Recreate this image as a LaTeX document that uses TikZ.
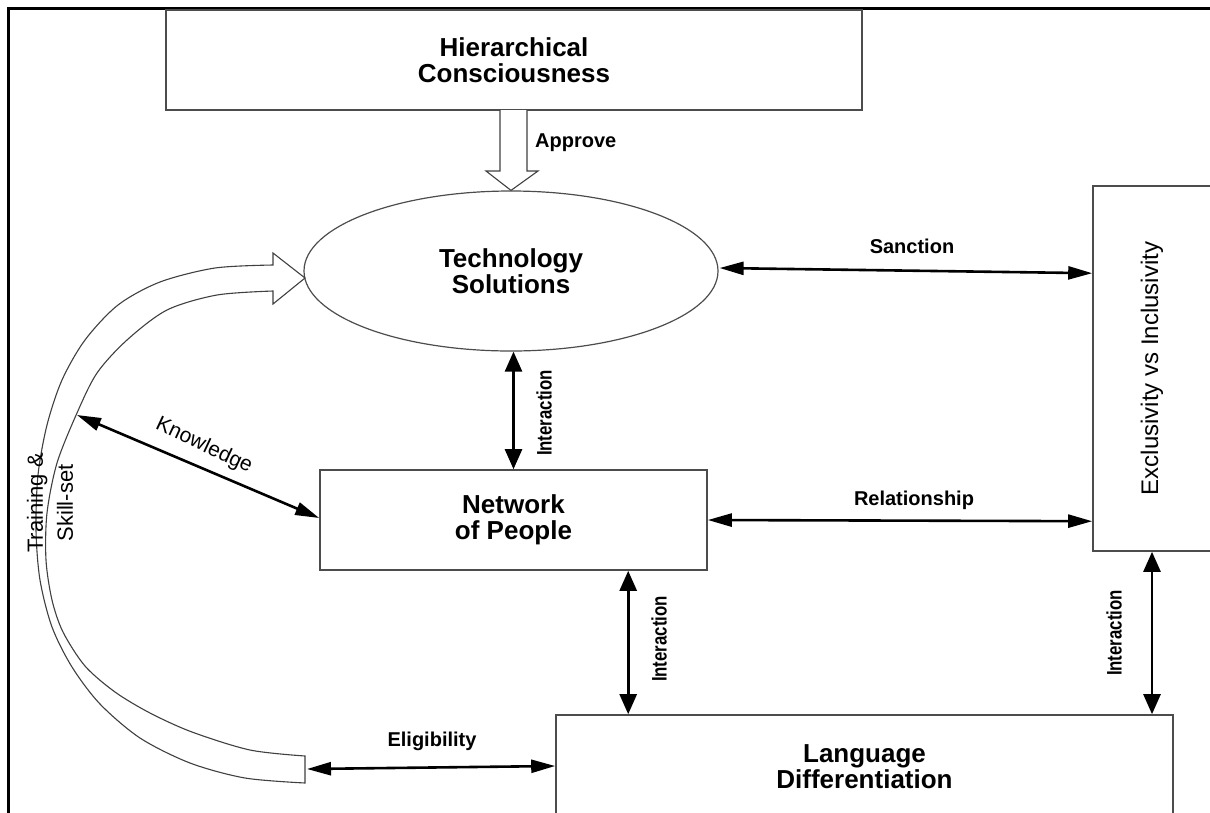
\documentclass[tikz,border=0pt]{standalone}
\usepackage{fontspec}
\usepackage{graphicx}
\setmainfont{Liberation Sans}
\usetikzlibrary{arrows.meta,calc,shapes.geometric}

\begin{document}
\begin{tikzpicture}[x=1pt,y=-1pt,
  box/.style={draw=black!70, line width=1.6pt, fill=white, inner sep=0pt,
    align=center, font=\fontsize{26}{26}\selectfont\bfseries},
  oval/.style={draw=black!70, line width=1.2pt, ellipse, inner sep=0pt,
    align=center, font=\fontsize{26}{26}\selectfont\bfseries},
  lbl/.style={inner sep=0pt, font=\fontsize{20}{20}\selectfont\bfseries},
  plainlbl/.style={inner sep=0pt, font=\fontsize{21}{21}\selectfont},
  vlbl/.style={inner sep=0pt, font=\fontsize{21}{21}\selectfont\bfseries},
  hlink/.style={line width=2.6pt, {Triangle[length=24pt,width=13pt]}-{Triangle[length=24pt,width=13pt]}},
  vlink/.style={line width=2.6pt, {Triangle[length=20pt,width=17pt]}-{Triangle[length=20pt,width=17pt]}},
  hollow/.style={draw=black!75, line width=1.1pt, fill=white, line join=miter}
]
\useasboundingbox (0,0) rectangle (1210,812);

% outer frame
\draw[line width=3pt, line join=miter] (8,814) -- (8,8) -- (1212,8);

% main blocks
\node[box, minimum width=696pt, minimum height=100pt] (hc) at (514,60) {Hierarchical\\Consciousness};
\node[oval, minimum width=414pt, minimum height=160pt] (ts) at (511,271) {Technology\\Solutions};
\node[box, minimum width=118pt, minimum height=365pt, font=\fontsize{24}{24}\selectfont] (ex) at (1152,368.5)
  {\rotatebox{90}{Exclusivity vs Inclusivity}};
\node[box, minimum width=387pt, minimum height=100pt] (np) at (513.5,520) {Network\\of People};
\node[box, minimum width=617pt, minimum height=104pt] (ld) at (864.5,767) {Language\\Differentiation};

% approval block arrow
\draw[hollow] (500,110) -- (500,171) -- (486,171) -- (ts.north) -- (538,171) -- (527,171) -- (527,110);
\node[lbl, anchor=west] (apl) at (535,143) {Approve};

% curved training arrow
\draw[hollow] (273,253) -- (305,278) -- (273,304) -- (273,291)
  -- plot[smooth] coordinates {(273,291) (217,295) (167,310) (127,340) (97,373) (77,413) (57,463)
     (47,513) (46,560) (52,600) (63,632) (85,666) (115,692) (150,713) (192,732) (250,750) (305,756)}
  -- (305,783)
  -- plot[smooth] coordinates {(305,783) (245,778) (190,763) (140,738) (100,704) (72,667) (52,627)
     (40,580) (36,530) (38,475) (47,425) (62,380) (85,340) (118,305) (160,282) (215,268) (273,265)}
  -- cycle;
\coordinate (tail) at (307,769);
\coordinate (kn) at (77,415);
\node[rotate=90, align=center, inner sep=0pt, font=\fontsize{22}{30}\selectfont] (trl) at (50,503)
  {Training \&\\Skill-set};

% relations
\draw[hlink] ($(ts.east)+(1,-3)$) -- ($(ex.north west)+(0,88)$);
\node[lbl] (sal) at (912,246) {Sanction};

\draw[hlink] (np.east) -- ($(ex.north west)+(0,336)$);
\node[lbl] (rel) at (914,500) {Relationship};

\draw[vlink] (ts.south -| np.north) -- (np.north);
\node[vlbl, rotate=90] (in1) at (544,413) {\scalebox{0.8}[1]{Interaction}};

\coordinate (i2) at ($(ld.north west)+(73,0)$);
\draw[vlink] (i2 |- np.south) -- (i2);
\node[vlbl, rotate=90] (in2) at (659,639) {\scalebox{0.8}[1]{Interaction}};

\draw[vlink] (ex.south) -- (ex.south |- ld.north);
\node[vlbl, rotate=90] (in3) at (1114,633) {\scalebox{0.8}[1]{Interaction}};

\draw[hlink] (kn) -- ($(np.west)+(0,-2)$);
\node[plainlbl, rotate=-25] (knl) at (204,446) {Knowledge};

\draw[hlink] (tail) -- ($(ld.west)+(0,-1)$);
\node[lbl] (ell) at (432,741) {Eligibility};
\end{tikzpicture}
\end{document}
